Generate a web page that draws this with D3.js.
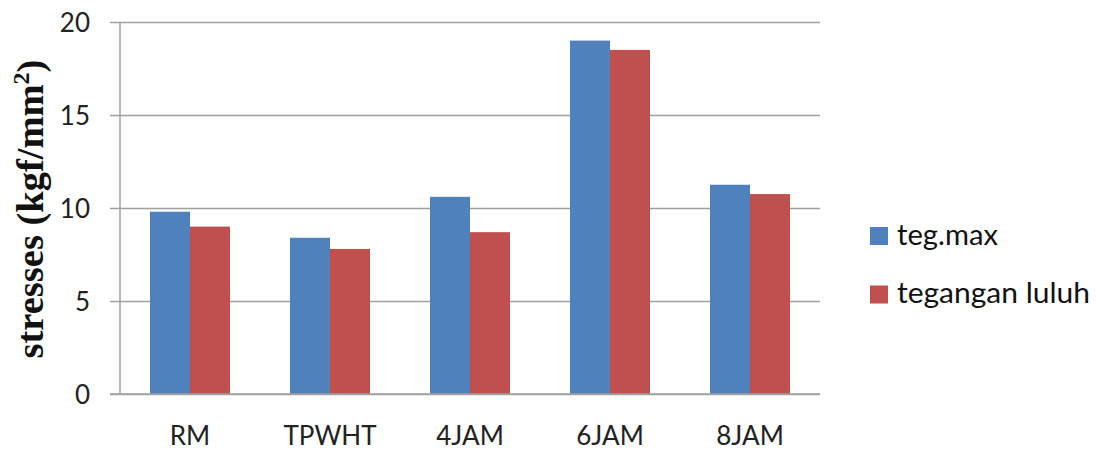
<!DOCTYPE html>
<html><head><meta charset="utf-8">
<script src="https://cdn.jsdelivr.net/npm/d3@7"></script>
<style>body{margin:0;background:#fff}svg{display:block}</style>
</head><body>
<script>
const categories = ["RM","TPWHT","4JAM","6JAM","8JAM"];
const tegMax = [9.8, 8.4, 10.6, 19.0, 11.25];
const teganganLuluh = [9.0, 7.8, 8.7, 18.5, 10.75];
const seriesNames = ["teg.max","tegangan luluh"];
const yTicks = [0,5,10,15,20];

(function(){
const W=1096,H=450;
const svg=d3.select("body").append("svg").attr("width",W).attr("height",H);
const pL=120,pR=820,pT=22,pB=394;
const x=d3.scaleBand().domain(categories).range([pL,pR]).paddingInner(60/140).paddingOuter(30/140);
const xs=d3.scaleBand().domain(seriesNames).range([0,x.bandwidth()]);
const y=d3.scaleLinear().domain([0,20]).range([pB,pT]);
const colors={"teg.max":"#4F81BD","tegangan luluh":"#C0504D"};
const font="Lato, 'Open Sans', sans-serif";

const ya=d3.axisLeft(y).tickValues(yTicks).tickSize(-(pR-pL)).tickPadding(30);
const gy=svg.append("g").attr("transform",`translate(${pL},0)`).call(ya);
gy.select(".domain").remove();
gy.selectAll(".tick line").attr("x1",-10).attr("stroke","#a0a0a0").attr("stroke-width",1.5);
gy.selectAll(".tick text").attr("font-family",font).attr("font-size",26).attr("fill","#222").attr("dy","0.36em");
svg.append("line").attr("x1",pL).attr("x2",pL).attr("y1",pT).attr("y2",pB).attr("stroke","#a0a0a0").attr("stroke-width",1.5);

const data=categories.map((c,i)=>({c,vals:[{s:seriesNames[0],v:tegMax[i]},{s:seriesNames[1],v:teganganLuluh[i]}]}));
const g=svg.append("g");
g.selectAll("g").data(data).join("g").attr("transform",d=>`translate(${x(d.c)},0)`)
 .selectAll("rect").data(d=>d.vals).join("rect")
 .attr("x",d=>xs(d.s)).attr("width",xs.bandwidth()).attr("y",d=>y(d.v)).attr("height",d=>y(0)-y(d.v))
 .attr("fill",d=>colors[d.s]);

const xa=d3.axisBottom(x).tickSize(0).tickPadding(0);
const gx=svg.append("g").attr("transform",`translate(0,${pB})`).call(xa);
gx.select(".domain").remove();
gx.selectAll(".tick text").attr("font-family",font).attr("font-size",26).attr("fill","#222").attr("dy",0).attr("y",51);
svg.append("line").attr("x1",pL-10).attr("x2",pR).attr("y1",pB).attr("y2",pB).attr("stroke","#a0a0a0").attr("stroke-width",1.5);

const yl=svg.append("text").attr("transform",`translate(43,209) rotate(-90)`).attr("text-anchor","middle")
 .attr("font-family","'Liberation Serif','Times New Roman',serif").attr("font-weight","bold").attr("font-size",38.5).attr("fill","#111");
yl.append("tspan").text("stresses (kgf/mm");
yl.append("tspan").text("2").attr("font-size",24).attr("dy",-14);
yl.append("tspan").text(")").attr("dy",14);

const lg=svg.append("g");
const legW=[101,193];
seriesNames.forEach((s,i)=>{
  const yy=236+i*58.5;
  lg.append("rect").attr("x",870).attr("y",yy-9).attr("width",18).attr("height",18).attr("fill",colors[s]);
  lg.append("text").attr("x",897).attr("y",yy+8.5).attr("font-family",font).attr("font-size",28)
    .attr("textLength",legW[i]).attr("lengthAdjust","spacingAndGlyphs").attr("fill","#111").text(s);
});
})();
</script>
</body></html>
